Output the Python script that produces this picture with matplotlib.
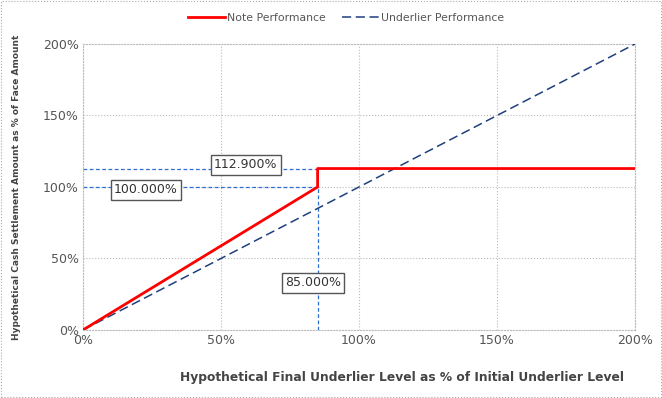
import matplotlib.pyplot as plt
from matplotlib.patches import Rectangle
from matplotlib.ticker import FuncFormatter

# data (percent)
note_x = [0, 85, 85, 200]
note_y = [0, 100, 112.9, 112.9]
under_x = [0, 200]
under_y = [0, 200]
cap_level = 112.9
barrier_level = 100.0
barrier_x = 85.0
labels = ["112.900%", "100.000%", "85.000%"]

fig = plt.figure(figsize=(6.62, 3.98), dpi=100)
ax = fig.add_axes([0.1254, 0.171, 0.8338, 0.7184])

ax.plot(note_x, note_y, color="#ff0000", lw=2.0, label="Note Performance", zorder=4)
ax.plot(under_x, under_y, color="#1f3f7f", lw=1.1, ls=(0, (6, 3)), label="Underlier Performance", zorder=3)

# reference lines
ref = "#2f6fd0"
ax.plot([0, barrier_x], [cap_level, cap_level], color=ref, lw=0.9, ls=(0, (3, 2)), zorder=2.5)
ax.plot([0, barrier_x], [barrier_level, barrier_level], color=ref, lw=0.9, ls=(0, (3, 2)), zorder=2.5)
ax.plot([barrier_x, barrier_x], [0, barrier_level], color=ref, lw=0.9, ls=(0, (3, 2)), zorder=2.5)

box = dict(boxstyle="square,pad=0.25", fc="white", ec="#555555", lw=1.0)
ax.text(59, 115.4, labels[0], ha="center", va="center", fontsize=9, color="#333333", bbox=box, zorder=5)
ax.text(22.8, 97.9, labels[1], ha="center", va="center", fontsize=9, color="#333333", bbox=box, zorder=5)
ax.text(83.3, 32.9, labels[2], ha="center", va="center", fontsize=9, color="#333333", bbox=box, zorder=5)

ax.set_xlim(0, 200)
ax.set_ylim(0, 200)
ax.set_xticks([0, 50, 100, 150, 200])
ax.set_yticks([0, 50, 100, 150, 200])
pct = FuncFormatter(lambda v, p: f"{v:.0f}%")
ax.xaxis.set_major_formatter(pct)
ax.yaxis.set_major_formatter(pct)
ax.tick_params(length=0, labelsize=9, labelcolor="#555555", pad=3)
ax.grid(True, color="#bbbbbb", ls=":", lw=0.8)
for s in ax.spines.values():
    s.set_color("#bbbbbb")
    s.set_linestyle(":")
    s.set_linewidth(0.8)

ax.set_ylabel("Hypothetical Cash Settlement Amount as % of Face Amount",
              fontsize=6.5, fontweight="bold", color="#444444", labelpad=16)
fig.text(402 / 662, 1 - 378 / 398, "Hypothetical Final Underlier Level as % of Initial Underlier Level",
         ha="center", va="center", fontsize=8.8, fontweight="bold", color="#444444")

fig.legend(loc="center", bbox_to_anchor=(346 / 662, 1 - 18 / 398), ncol=2, frameon=False,
           fontsize=7.8, labelcolor="#555555",
           handlelength=3.4, columnspacing=1.5, handletextpad=0.2)

fig.patches.append(Rectangle((0.002, 0.003), 0.996, 0.994, transform=fig.transFigure,
                             fill=False, ec="#aaaaaa", ls=":", lw=0.8))

fig.savefig("out.png", dpi=100)
